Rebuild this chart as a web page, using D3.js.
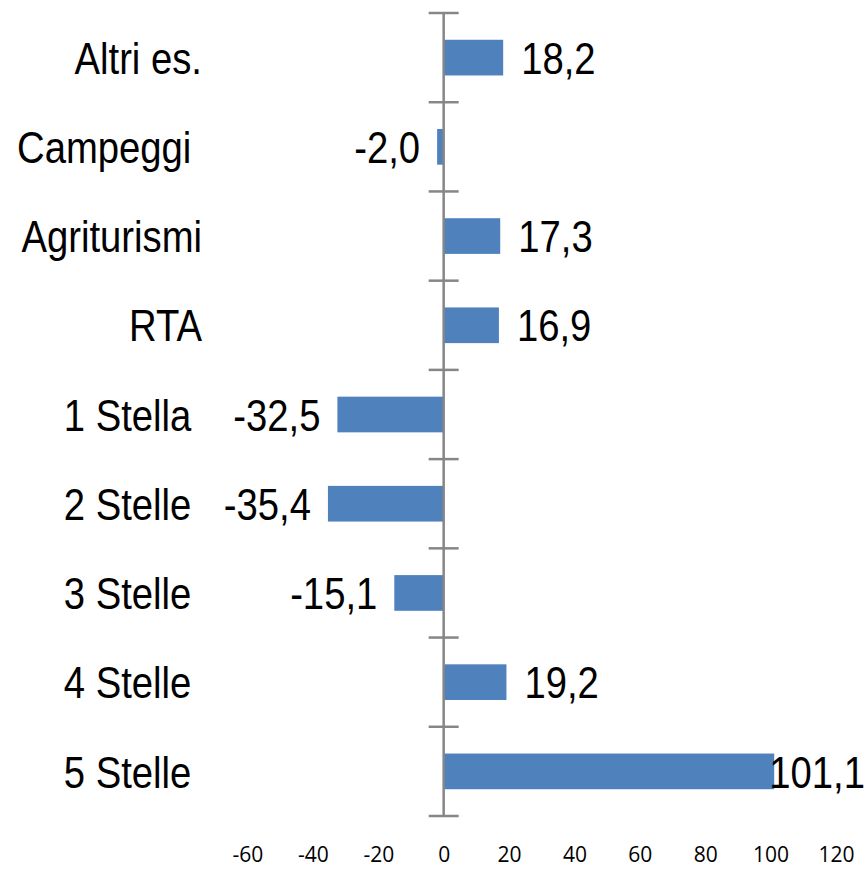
<!DOCTYPE html>
<html><head><meta charset="utf-8">
<script src="https://cdn.jsdelivr.net/npm/d3@7/dist/d3.min.js"></script>
<style>body{margin:0;background:#fff}</style>
</head><body>
<svg id="c" width="865" height="870"></svg>
<script>
const categories = ["Altri es.","Campeggi ","Agriturismi","RTA","1 Stella ","2 Stelle ","3 Stelle ","4 Stelle ","5 Stelle "];
const values = [18.2,-2.0,17.3,16.9,-32.5,-35.4,-15.1,19.2,101.1];
const tickValues = [-60,-40,-20,0,20,40,60,80,100,120];

const svg = d3.select("#c");
const x = d3.scaleLinear().domain([-60,120]).range([247.5,836]);
const y = d3.scaleBand().domain(categories).range([13,816]).paddingInner(0.6).paddingOuter(0.3);
const fmt = v => v.toFixed(1).replace(".", ",");
const labelFont = "'Liberation Sans',Arial,sans-serif";
const SX = 0.85; // horizontal condensing to mimic a narrow face

// bars
svg.selectAll("rect.bar").data(values).join("rect")
  .attr("class","bar")
  .attr("x", d => x(Math.min(0,d)))
  .attr("width", d => Math.abs(x(d)-x(0)))
  .attr("y", (d,i) => y(categories[i]))
  .attr("height", y.bandwidth())
  .attr("fill", "#4F81BD");

// vertical axis with tick marks at band boundaries
const step = y.step();
const edges = d3.range(categories.length+1).map(i => 13 + i*step);
svg.append("line").attr("x1", x(0)).attr("x2", x(0)).attr("y1", edges[0]).attr("y2", edges[edges.length-1])
  .attr("stroke","#868686").attr("stroke-width",2.5);
svg.selectAll("line.tk").data(edges).join("line").attr("class","tk")
  .attr("x1", x(0)-15).attr("x2", x(0)+15).attr("y1", d=>d).attr("y2", d=>d)
  .attr("stroke","#868686").attr("stroke-width",2.5);

// category labels
svg.selectAll("text.cat").data(categories).join("text").attr("class","cat")
  .attr("transform", d => `translate(202,${y(d)+y.bandwidth()/2}) scale(${SX},1)`)
  .attr("dy","0.36em").attr("text-anchor","end")
  .style("white-space","pre")
  .style("font-family", labelFont).style("font-size","45px").attr("fill","#000")
  .text(d => d);

// value labels
svg.selectAll("text.val").data(values).join("text").attr("class","val")
  .attr("dy","0.36em")
  .style("font-family", labelFont).style("font-size","45px").attr("fill","#000")
  .text(d => fmt(d))
  .each(function(d,i){
    const t = d3.select(this);
    const cy = y(categories[i])+y.bandwidth()/2;
    let xs;
    if (d >= 0) {
      const w = this.getComputedTextLength()*SX;
      xs = Math.min(x(d)+18, 865 - w);
      t.attr("text-anchor","start");
    } else {
      xs = x(d)-17;
      t.attr("text-anchor","end");
    }
    t.attr("transform", `translate(${xs},${cy}) scale(${SX},1)`);
  });

// x tick labels
const xAxis = d3.axisBottom(x).tickValues(tickValues).tickSize(0).tickFormat(d => String(d));
const g = svg.append("g").attr("transform","translate(0,847)").call(xAxis);
g.select(".domain").remove();
g.selectAll("text").style("font-family","'Open Sans',sans-serif").style("font-size","21px").attr("fill","#000").attr("dy","0.71em").attr("y",0);
</script>
</body></html>
